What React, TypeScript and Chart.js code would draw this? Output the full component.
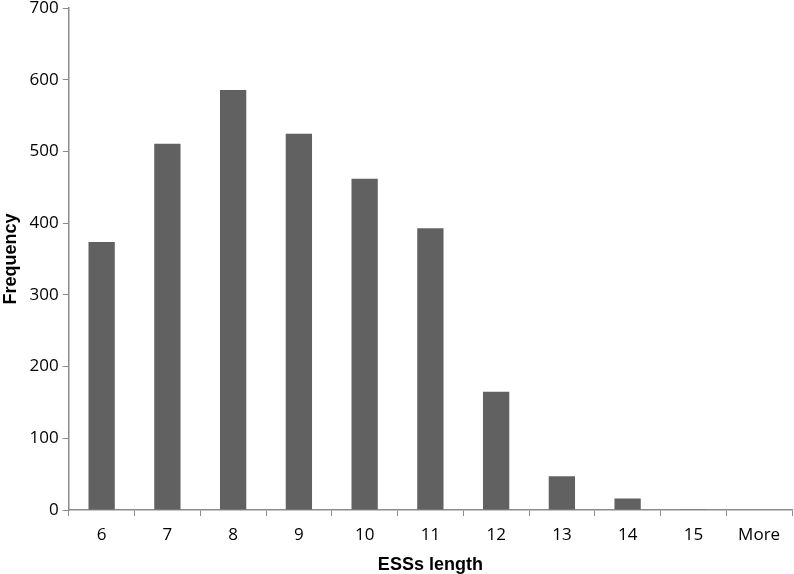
import React, { useEffect, useRef } from "react";
import { Chart, registerables } from "chart.js";

Chart.register(...registerables);

const categories = ["6", "7", "8", "9", "10", "11", "12", "13", "14", "15", "More"];
const frequency = [374, 511, 586, 525, 462, 393, 165, 47, 16, 1, 0];
const yTicks = [0, 100, 200, 300, 400, 500, 600, 700];

export default function App() {
  const ref = useRef<HTMLCanvasElement | null>(null);
  useEffect(() => {
    document.body.style.margin = "0";
    const ctx = ref.current!;
    const chart = new Chart(ctx, {
      type: "bar",
      data: {
        labels: categories,
        datasets: [
          {
            label: "Frequency",
            data: frequency,
            backgroundColor: "#616161",
            borderWidth: 0,
            categoryPercentage: 1,
            barPercentage: 0.4,
          },
        ],
      },
      options: {
        animation: false,
        responsive: false,
        maintainAspectRatio: false,
        layout: { padding: { top: 0, right: 2, left: 0, bottom: 0 } },
        plugins: { legend: { display: false }, tooltip: { enabled: false } },
        scales: {
          x: {
            grid: { drawOnChartArea: false, drawTicks: true, tickLength: 6, color: "#8c8c8c", offset: true },
            border: { color: "#8c8c8c", width: 1.5 },
            ticks: { color: "#000", font: { family: "Open Sans", size: 17 }, padding: 9 },
            title: {
              display: true,
              text: "ESSs length",
              color: "#000",
              font: { family: "Liberation Sans", size: 18, weight: "bold" },
              padding: { top: 0, bottom: 0 },
            },
          },
          y: {
            min: 0,
            max: 700,
            afterBuildTicks: (axis: any) => {
              axis.ticks = yTicks.map((v) => ({ value: v }));
            },
            grid: { drawOnChartArea: false, drawTicks: true, tickLength: 6, color: "#8c8c8c" },
            border: { color: "#8c8c8c", width: 1.5 },
            ticks: { color: "#000", font: { family: "Open Sans", size: 17 }, padding: 4 },
            title: {
              display: true,
              text: "Frequency",
              color: "#000",
              font: { family: "Liberation Sans", size: 18, weight: "bold" },
              padding: { top: 0, bottom: 4 },
            },
          },
        },
      },
    });
    return () => chart.destroy();
  }, []);
  return (
    <div style={{ position: "fixed", left: 0, top: 0, width: 794, height: 574, background: "#fff", overflow: "hidden" }}>
      <canvas
        ref={ref}
        width={794}
        height={582}
        style={{ position: "absolute", left: 0, top: -6, width: 794, height: 582 }}
      />
    </div>
  );
}
